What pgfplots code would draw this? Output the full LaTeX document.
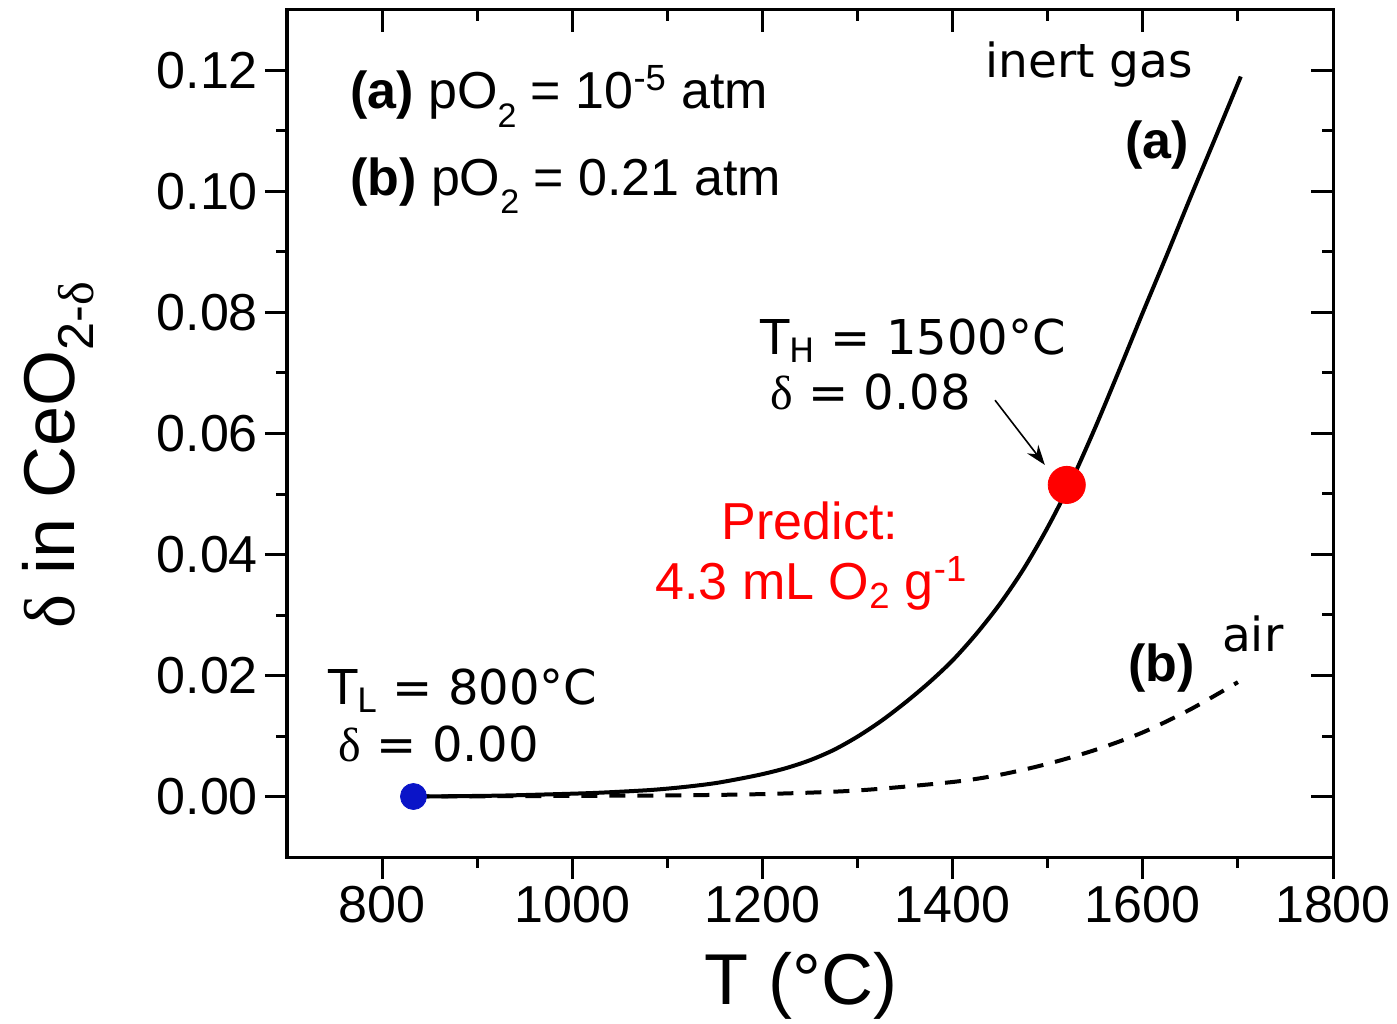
\documentclass[border=0pt]{standalone}
\usepackage{fontspec}
\setmainfont{Liberation Sans}
\newfontfamily\dv{DejaVu Sans}
\newfontfamily\sr{Liberation Serif}
\newcommand\dl{{\sr δ}}
\newcommand\lsub[1]{\raisebox{-0.36em}{\fontsize{17}{17}\selectfont #1}}
\usepackage{pgfplots}
\pgfplotsset{compat=1.18}
\usetikzlibrary{arrows.meta}
\definecolor{dotblue}{RGB}{10,20,200}
\begin{document}
\begin{tikzpicture}
\pgfplotsset{base/.style={
  width=523pt, height=423.5pt, scale only axis,
  xmin=700, xmax=1800, ymin=-0.01, ymax=0.13,
  xtick={800,1000,1200,1400,1600,1800},
  ytick={0,0.02,0.04,0.06,0.08,0.10,0.12},
  minor x tick num=1, minor y tick num=1,
  axis line style={line width=1.5pt},
  tick style={line width=1.5pt, black},
  major tick length=11pt, minor tick length=5.5pt,
}}
\begin{axis}[base, tick align=outside, xtick pos=left, ytick pos=left,
  clip=false,
  tick label style={font=\fontsize{26}{31}\selectfont},
  /pgf/number format/assume math mode=true,
  yticklabel style={/pgf/number format/.cd, fixed, fixed zerofill, precision=2, /tikz/.cd},
  xticklabel style={/pgf/number format/1000 sep={}},
  scaled y ticks=false,
  xlabel={T (°C)}, ylabel={\dl{} in CeO\textsubscript{2-\dl}},
  label style={font=\fontsize{36}{43}\selectfont},
  xlabel style={at={(axis description cs:0.4914,-0.1747)}, anchor=base},
  ylabel style={at={(axis description cs:-0.2027,0.4746)}, anchor=base},
]
% (a) inert gas
\addplot[black, line width=2pt, smooth, tension=0.5] coordinates {
(833,0) (875,0.00005) (925,0.00015) (975,0.00035) (1025,0.0006) (1075,0.0010)
(1100,0.0013) (1125,0.0017) (1150,0.0022) (1175,0.0029) (1200,0.0037)
(1225,0.0047) (1250,0.0060) (1275,0.0077) (1300,0.0099)
(1325,0.0125) (1350,0.0155) (1375,0.0188) (1400,0.0225) (1425,0.0269)
(1450,0.0319) (1475,0.0377) (1500,0.0445) (1525,0.0522) (1550,0.0610)
(1575,0.0704) (1600,0.0800) (1625,0.0894) (1650,0.0990) (1675,0.1084)
(1703,0.1190)};
% (b) air
\addplot[black, line width=2pt, smooth, dash pattern=on 8pt off 6pt] coordinates {
(833,0) (900,0.00003) (1000,0.0001) (1100,0.00018) (1200,0.0004) (1300,0.0010)
(1400,0.0024) (1450,0.0036) (1500,0.0054) (1550,0.0077) (1600,0.0106)
(1650,0.0144) (1700,0.0189)};
\addplot[only marks, mark=*, mark size=6.5pt, color=dotblue] coordinates {(833,0)};
\addplot[only marks, mark=*, mark size=9.3pt, color=red] coordinates {(1520,0.0515)};

\node[anchor=base west, inner sep=0, font=\fontsize{26}{31}\selectfont] at (axis cs:766,0.1137) {\textbf{(a)} pO\lsub{2} = 10\textsuperscript{-5} atm};
\node[anchor=base west, inner sep=0, font=\fontsize{26}{31}\selectfont] at (axis cs:766,0.0994) {\textbf{(b)} pO\lsub{2} = 0.21 atm};
\node[anchor=base west, inner sep=0, font=\dv\fontsize{23.5}{28}\selectfont] at (axis cs:1434,0.1189) {inert gas};
\node[anchor=base west, inner sep=0, font=\bfseries\fontsize{26}{31}\selectfont] at (axis cs:1581,0.1055) {(a)};
\node[anchor=base west, inner sep=0, font=\dv\fontsize{24}{28}\selectfont] at (axis cs:1197,0.0730) {T\textsubscript{H} = 1500°C};
\node[anchor=base west, inner sep=0, font=\dv\fontsize{24}{28}\selectfont] at (axis cs:1208,0.0639) {\dl{} = 0.08};
\draw[line width=0.8pt, -{Stealth[length=10pt,width=7pt]}] (axis cs:1444.6,0.0655) -- (axis cs:1497,0.0548);
\node[anchor=base, inner sep=0, text=red, font=\fontsize{26}{31}\selectfont] at (axis cs:1250,0.0424) {Predict:};
\node[anchor=base west, inner sep=0, text=red, font=\fontsize{26}{31}\selectfont] at (axis cs:1087,0.0325) {4.3 mL O\textsubscript{2} g\textsuperscript{-1}};
\node[anchor=base west, inner sep=0, font=\bfseries\fontsize{26}{31}\selectfont] at (axis cs:1584,0.0190) {(b)};
\node[anchor=base west, inner sep=0, font=\dv\fontsize{23.5}{28}\selectfont] at (axis cs:1683,0.0239) {air};
\node[anchor=base west, inner sep=0, font=\dv\fontsize{24}{28}\selectfont] at (axis cs:743,0.0152) {T\textsubscript{L} = 800°C};
\node[anchor=base west, inner sep=0, font=\dv\fontsize{24}{28}\selectfont] at (axis cs:754,0.0058) {\dl{} = 0.00};
\end{axis}
\begin{axis}[base, tick align=inside, xtick pos=right, ytick pos=right,
  xticklabels={}, yticklabels={}]
\end{axis}
\pgfresetboundingbox
\path (-143.5pt,-83pt) rectangle (555pt,428.5pt);
\end{tikzpicture}
\end{document}
